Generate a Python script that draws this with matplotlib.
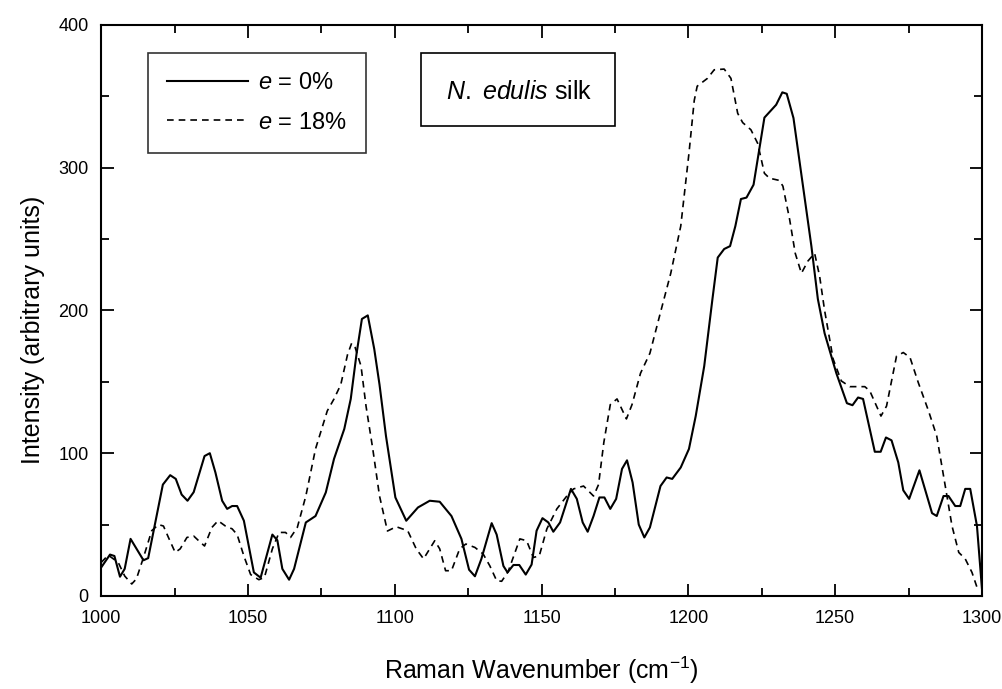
import matplotlib.pyplot as plt
from matplotlib.patches import Rectangle

plt.rcParams['font.family'] = ['Liberation Sans', 'DejaVu Sans']
plt.rcParams['mathtext.fontset'] = 'custom'
plt.rcParams['mathtext.rm'] = 'Liberation Sans'
plt.rcParams['mathtext.it'] = 'Liberation Sans:italic'

# spectrum: e = 0% (solid)
wn_0 = [1000, 1003, 1004.5, 1006.4, 1008, 1010, 1014.4, 1016, 1021, 1023.5,
        1025.4, 1027.4, 1029.4, 1031.5, 1035.2, 1037, 1038.9, 1041.2, 1042.9, 1044.6,
        1046.3, 1048.6, 1052, 1054.3, 1058.3, 1060, 1061.7, 1064, 1065.7, 1069.7,
        1073, 1076.5, 1079.3, 1082.8, 1085, 1087, 1088.8, 1090.8, 1093, 1094.8,
        1097, 1100.2, 1103.9, 1107.9, 1111.9, 1115.3, 1119.3, 1122.7, 1125.3, 1127.3,
        1129.5, 1133, 1134.7, 1137, 1138.4, 1140.4, 1142.4, 1144.6, 1146.6, 1148.3,
        1150.3, 1152.3, 1154, 1156.3, 1160, 1162, 1164, 1165.7, 1167.7, 1169.7,
        1171.4, 1173.4, 1175.4, 1177.4, 1179.1, 1181, 1183.1, 1185, 1186.9, 1190.5,
        1192.6, 1194.5, 1197.4, 1200.2, 1202.5, 1205.4, 1208.2, 1210, 1212.2, 1214.2,
        1216, 1217.9, 1219.8, 1222.2, 1225.9, 1229.9, 1232, 1233.5, 1235.8, 1241.9,
        1244.1, 1246.4, 1250.4, 1254, 1255.9, 1257.8, 1259.5, 1263.5, 1265.5, 1267.3,
        1269.2, 1271.5, 1273.2, 1275.2, 1278.7, 1283, 1284.6, 1286.9, 1288.6, 1290.9,
        1292.6, 1294.3, 1296, 1298.3, 1300]
int_0 = [20, 29, 28, 13.5, 19, 40, 25, 26.5, 78, 84.6,
         82, 71, 66.7, 72.7, 98, 100, 86.5, 66.7, 61, 63,
         63, 52.7, 16.5, 12.8, 43, 39, 19, 11.4, 19, 51.5,
         56, 72.5, 96, 117, 138, 170, 194, 196.5, 173, 148,
         112, 69, 52.7, 62, 66.7, 66, 56, 40, 18.4, 13.8,
         26, 51, 43, 21, 16.5, 21.7, 21.7, 15, 22, 45.7,
         54.5, 51.5, 45, 51.5, 75, 68, 51.5, 45, 56, 69,
         69, 61, 68, 89, 95, 79.5, 50, 41, 48, 77,
         83, 82, 90, 103, 126, 161, 208, 237, 243, 245,
         259, 278, 279, 288, 335, 344, 352.7, 351.7, 334.7, 245,
         208, 184, 156, 135, 133.6, 139, 138, 101, 101, 111,
         109, 93.5, 74, 68, 88, 58, 56, 70, 70, 63,
         63, 75, 75, 49, 5]

# e = 18% (dashed)
wn_18 = [1000, 1002.4, 1005.8, 1008, 1010.4, 1012, 1014.4, 1017.2, 1019.5, 1021.2,
         1022.9, 1025.2, 1026.9, 1029.2, 1031.5, 1033.2, 1035.2, 1037.7, 1039.8, 1042.3,
         1044.6, 1046.3, 1048.6, 1050.9, 1053.7, 1055.6, 1058.3, 1060.6, 1062.8, 1064.5,
         1066.8, 1069.7, 1073, 1077, 1079.3, 1081.6, 1083.9, 1085.3, 1086.5, 1088.5,
         1090.2, 1092.5, 1094.8, 1097.5, 1100.5, 1104.4, 1107.3, 1109.8, 1113.6, 1115.3,
         1117.3, 1119.3, 1122.1, 1124.2, 1127.3, 1130.1, 1132.4, 1134.7, 1136.4, 1138.6,
         1142.6, 1144.9, 1147.2, 1149.2, 1151.8, 1155.2, 1158.6, 1160.9, 1164.3, 1167.7,
         1169.4, 1171.2, 1173.4, 1175.7, 1178.9, 1180.8, 1183.7, 1186.9, 1190.3, 1194,
         1197.4, 1200.2, 1202, 1203, 1206.5, 1208.8, 1212.2, 1214.5, 1216.8, 1218.5,
         1221.3, 1223.6, 1225.9, 1227.6, 1231, 1232.2, 1234.5, 1236.4, 1238.5, 1240.7,
         1243, 1244.7, 1246.4, 1249.3, 1252.1, 1255, 1260.1, 1261.8, 1265.6, 1267.5,
         1270.9, 1273.2, 1275.5, 1278.3, 1281.8, 1284.6, 1287.5, 1289.8, 1292.1, 1294.3,
         1296.6, 1298.7]
int_18 = [23.5, 28.6, 23.5, 14, 8.4, 12, 27, 45.7, 50, 49,
          41, 30.5, 33, 41, 42, 38.7, 35, 48, 52.7, 49,
          47, 43, 28, 15, 11.4, 13, 33, 44.5, 44.5, 41,
          48, 70, 103, 129.6, 138, 148, 169, 177, 174, 161,
          133, 103, 70, 45.5, 48.5, 45.7, 33, 26, 38.7, 33,
          17.7, 17.7, 33, 36.4, 34, 29.4, 21, 10.7, 10.3, 17,
          40, 38.7, 27, 28, 47, 61, 70, 75, 77, 70,
          78, 107.5, 134, 138, 124, 134, 156, 170, 197, 226,
          259, 310, 347, 357, 362.5, 368.5, 369, 362.5, 338, 331.5,
          326.5, 317, 296, 292.6, 291, 287, 263.6, 240, 226, 234.5,
          240, 224, 200, 166, 150.6, 146.6, 146.6, 143.6, 126, 133,
          168, 170.5, 167, 149.5, 129.6, 112, 77, 49, 30.5, 26,
          16.5, 3.7]

labels = ['$e$ = 0%', '$e$ = 18%']

fig = plt.figure(figsize=(10.02, 6.89), dpi=100)
ax = fig.add_axes([0.101, 0.135, 0.879, 0.829])

ax.plot(wn_0, int_0, color='black', lw=1.5, label=labels[0])
ax.plot(wn_18, int_18, color='black', lw=1.2, ls=(0, (4, 3)), label=labels[1])

ax.set_xlim(1000, 1300)
ax.set_ylim(0, 400)
ax.set_xticks(range(1000, 1301, 50))
ax.set_xticks(range(1025, 1300, 50), minor=True)
ax.set_yticks(range(0, 401, 100))
ax.set_yticks(range(50, 400, 100), minor=True)
ax.tick_params(which='both', direction='in', top=True, right=True, width=1.3,
               labelsize=13)
ax.tick_params(which='major', length=9)
ax.tick_params(which='minor', length=6)
ax.tick_params(axis='x', which='major', pad=10)
ax.tick_params(axis='y', which='major', pad=9)
for s in ax.spines.values():
    s.set_linewidth(1.5)

ax.set_xlabel('Raman Wavenumber (cm$^{-1}$)', fontsize=18, labelpad=20)
ax.set_ylabel('Intensity (arbitrary units)', fontsize=18)
ax.yaxis.set_label_coords(-0.064, 0.466)

leg = ax.legend(loc='upper left', bbox_to_anchor=(0.053, 0.951), fontsize=17,
                frameon=True, fancybox=False, edgecolor='black', handlelength=3.4,
                borderpad=0.82, labelspacing=0.74, handletextpad=0.45,
                borderaxespad=0)
leg.get_frame().set_linewidth(1.2)

ax.add_patch(Rectangle((0.363, 0.823), 0.2205, 0.127, transform=ax.transAxes,
                       fill=False, edgecolor='black', lw=1.2))
ax.text(0.475, 0.883, '$N.$ $edulis$ silk', transform=ax.transAxes,
        ha='center', va='center', fontsize=18)

fig.savefig('out.png', dpi=100)
